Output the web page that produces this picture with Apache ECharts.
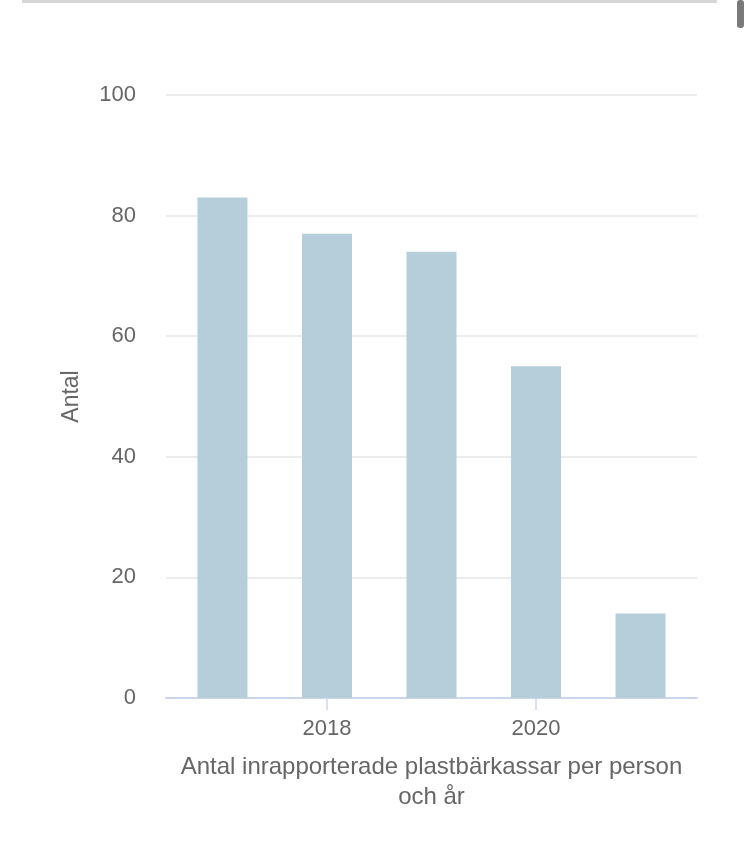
<!DOCTYPE html>
<html lang="sv">
<head>
    <meta charset="UTF-8">
    <title>Plastbärkassar</title>
    <script src="https://cdn.jsdelivr.net/npm/echarts@6/dist/echarts.min.js"></script>
    <style>
        *{
            margin: 0;
            padding: 0;
        }
        .container{
            width: 750px;
            height: 857px;
            background: #fff;
        }
    </style>
</head>
<body>
<div class="container"></div>
<script>
    // data
    let years=[2017,2018,2019,2020,2021]
    let antal=[83,77,74,55,14]
    let shownYears=[2018,2020]

    let container=document.querySelector('.container')
    let echart=echarts.init(container)

    let font='"Liberation Sans", Arial, sans-serif'

    let option={
        animation:false,
        textStyle:{fontFamily:font},
        grid:{
            left:166,
            right:53,
            top:95,
            bottom:159
        },
        graphic:[
            {
                type:'rect',
                shape:{x:22,y:0,width:695,height:3},
                style:{fill:'#d6d6d6'}
            },
            {
                type:'rect',
                shape:{x:737,y:0,width:7,height:28,r:3},
                style:{fill:'#7a7a7a'}
            }
        ],
        xAxis:{
            type:'value',
            min:2016.46,
            max:2021.54,
            name:'Antal inrapporterade plastbärkassar per person\noch år',
            nameLocation:'middle',
            nameGap:54,
            nameTextStyle:{
                color:'#666',
                fontSize:24,
                lineHeight:30,
                verticalAlign:'top'
            },
            splitLine:{show:false},
            axisLine:{lineStyle:{color:'#ccd6eb',width:2}},
            axisTick:{
                customValues:shownYears,
                length:12,
                lineStyle:{color:'#ccd6eb',width:1.5}
            },
            axisLabel:{
                customValues:shownYears,
                formatter:v=>String(v),
                color:'#666',
                fontSize:22,
                margin:20
            }
        },
        yAxis:{
            type:'value',
            min:0,
            max:100,
            interval:20,
            name:'Antal',
            nameLocation:'middle',
            nameGap:83,
            nameTextStyle:{color:'#666',fontSize:23},
            axisLabel:{color:'#666',fontSize:22,margin:30,padding:[6,0,0,0]},
            splitLine:{lineStyle:{color:'#e6e6e6',width:1.5}},
            axisLine:{show:false},
            axisTick:{show:false}
        },
        series:[{
            type:'bar',
            data:years.map((y,i)=>[y,antal[i]]),
            barWidth:50,
            itemStyle:{color:'#b5ced9'}
        }]
    }

    echart.setOption(option)
</script>
</body>
</html>
